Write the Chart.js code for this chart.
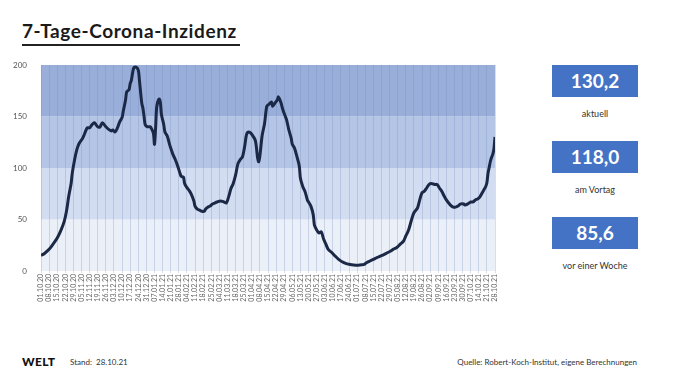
<!DOCTYPE html>
<html>
<head>
<meta charset="utf-8">
<script src="https://cdn.jsdelivr.net/npm/chart.js@4.4.0/dist/chart.umd.min.js"></script>
<style>
  body { margin: 0; background: #fff; font-family: Lato, "Open Sans", sans-serif; }
  #page { position: relative; width: 680px; height: 385px; overflow: hidden; }
  #title { position: absolute; left: 22px; top: 19px; width: 218px; font-size: 19px; font-weight: 700; color: #1a1a1a;
           letter-spacing: 0.6px; border-bottom: 2px solid #222; padding-bottom: 2px; white-space: nowrap; }
  #chartBox { position: absolute; left: 0; top: 0; width: 510px; height: 310px; }
  .box { position: absolute; left: 552px; width: 86px; height: 32px; background: #4472c4; color: #fff;
         font-weight: 700; font-size: 19px; text-align: center; line-height: 32px; }
  .cap { position: absolute; left: 530px; width: 130px; text-align: center; font-size: 9px; color: #333; }
  .foot { position: absolute; top: 357px; font-size: 8px; color: #333; }
</style>
</head>
<body>
<div id="page">
  <div id="title">7-Tage-Corona-Inzidenz</div>
  <div id="chartBox"><canvas id="chart" width="510" height="310"></canvas></div>
  <div class="box" style="top:65px">130,2</div>
  <div class="cap" style="top:108px">aktuell</div>
  <div class="box" style="top:141px">118,0</div>
  <div class="cap" style="top:184px">am Vortag</div>
  <div class="box" style="top:217px">85,6</div>
  <div class="cap" style="top:260px">vor einer Woche</div>
  <div class="foot" style="left:22px; top:354px; font-size:12px; font-weight:900; letter-spacing:0.3px; color:#111">WELT</div>
  <div class="foot" style="left:70px">Stand:&nbsp; 28.10.21</div>
  <div class="foot" style="right:43px">Quelle: Robert-Koch-Institut, eigene Berechnungen</div>
</div>
<script>
// weekly tick labels on the x axis
const weekLabels = ["01.10.20","08.10.20","15.10.20","22.10.20","29.10.20","05.11.20","12.11.20","19.11.20","26.11.20",
  "03.12.20","10.12.20","17.12.20","24.12.20","31.12.20","07.01.21","14.01.21","21.01.21","28.01.21","04.02.21",
  "11.02.21","18.02.21","25.02.21","04.03.21","11.03.21","18.03.21","25.03.21","01.04.21","08.04.21","15.04.21",
  "22.04.21","29.04.21","06.05.21","13.05.21","20.05.21","27.05.21","03.06.21","10.06.21","17.06.21","24.06.21",
  "01.07.21","08.07.21","15.07.21","22.07.21","29.07.21","05.08.21","12.08.21","19.08.21","26.08.21","02.09.21",
  "09.09.21","16.09.21","23.09.21","30.09.21","07.10.21","14.10.21","21.10.21","28.10.21"];

// days since 01.10.20 and the incidence
const days = [0,3,7,11,14,17,20,22,24,26,27,29,31,33,36,39,40,42,44,46,49,51,53,56,59,61,62,64,66,68,70,71,73,74,76,77,78,80,82,84,85,87,88,89,90,92,94,95,97,98,99,100,102,103,104,106,107,109,111,113,114,116,118,120,121,123,124,126,128,130,132,133,135,137,139,141,142,144,146,148,150,152,155,158,160,162,164,166,168,170,172,174,176,177,178,179,181,183,185,186,187,188,189,191,193,195,197,199,200,202,204,205,207,209,211,212,214,216,217,219,221,223,224,226,228,230,231,233,235,236,237,238,240,242,244,246,248,251,254,257,260,263,266,270,274,277,279,281,284,287,290,293,296,299,302,304,307,310,313,315,317,318,320,322,325,327,329,331,333,335,337,340,342,344,346,348,350,352,354,356,358,360,362,365,366,369,371,373,375,377,379,381,383,384,385,386,387,388,389,390,391,392];
const incidence = [15,17,21,27,32,39,48,58,73,85,95,108,118,124,129,137,139,139,142,144,140,140,144,140,137,136,137,135,139,145,149,155,166,174,176,182,185,197,198,195,185,163,158,150,142,140,140,139,134,123,140,160,167,164,152,142,135,131,123,116,113,108,102,95,92,91,85,81,78,74,68,63,60,59,58,58,60,62,63,65,66,67,68,67,66,72,80,85,93,104,108,111,122,130,134,135,134,131,127,120,110,106,112,132,143,160,162,164,160,163,166,169,164,156,150,147,137,129,123,119,111,102,90,82,77,69,67,63,55,45,42,40,37,38,31,26,21,18,14.5,11.3,9,7.4,6.5,5.8,5.6,6,6.5,8,9.7,11.3,13,14.5,16,17.7,19.4,21,22.6,25.8,29,34,38.7,42,50,56.5,61,69,76,77.4,80.6,84,85,84,84,80.6,77.4,73,69,66,63.5,62,62,63,65,65,64,65.5,67,67,69,70,72,76,80,82,85.6,95.1,100.8,106.3,110.1,113,118,130.2];

// background bands
const bandEdges = [0, 50, 100, 150, 200];
const bandColors = ["#ebf0f8", "#d3ddf1", "#b5c5e6", "#99afda"];

const bands = {
  id: "bands",
  beforeDraw(chart) {
    const { ctx, chartArea: a, scales: { y } } = chart;
    ctx.save();
    for (let i = 0; i < bandColors.length; i++) {
      const top = y.getPixelForValue(bandEdges[i + 1]);
      const bot = y.getPixelForValue(bandEdges[i]);
      ctx.fillStyle = bandColors[i];
      ctx.fillRect(a.left, top, a.right - a.left, bot - top);
    }
    ctx.restore();
  }
};

new Chart(document.getElementById("chart"), {
  type: "line",
  data: {
    datasets: [{
      data: days.map((d, i) => ({ x: d, y: incidence[i] })),
      borderColor: "#1b2947",
      borderWidth: 3,
      pointRadius: 0,
      tension: 0.3,
      fill: false
    }]
  },
  options: {
    responsive: false,
    animation: false,
    layout: { padding: { top: 65, right: 15, left: 0, bottom: 0 } },
    plugins: { legend: { display: false }, tooltip: { enabled: false } },
    scales: {
      x: {
        type: "linear", min: 0, max: 392,
        afterFit(s) { s.height = 39; },
        grid: { color: "rgba(110,135,190,0.28)", lineWidth: 1, tickLength: 2 },
        border: { display: false },
        ticks: {
          stepSize: 7, autoSkip: false, minRotation: 90, maxRotation: 90, padding: 1,
          color: "#666", font: { family: "Lato", size: 7 },
          callback: v => weekLabels[Math.round(v / 7)]
        }
      },
      y: {
        min: 0, max: 200,
        afterFit(s) { s.width = 41; },
        grid: { display: false },
        border: { display: false },
        ticks: { stepSize: 50, padding: 6, color: "#555", font: { family: "Lato", size: 8 } }
      }
    }
  },
  plugins: [bands]
});
</script>
</body>
</html>
